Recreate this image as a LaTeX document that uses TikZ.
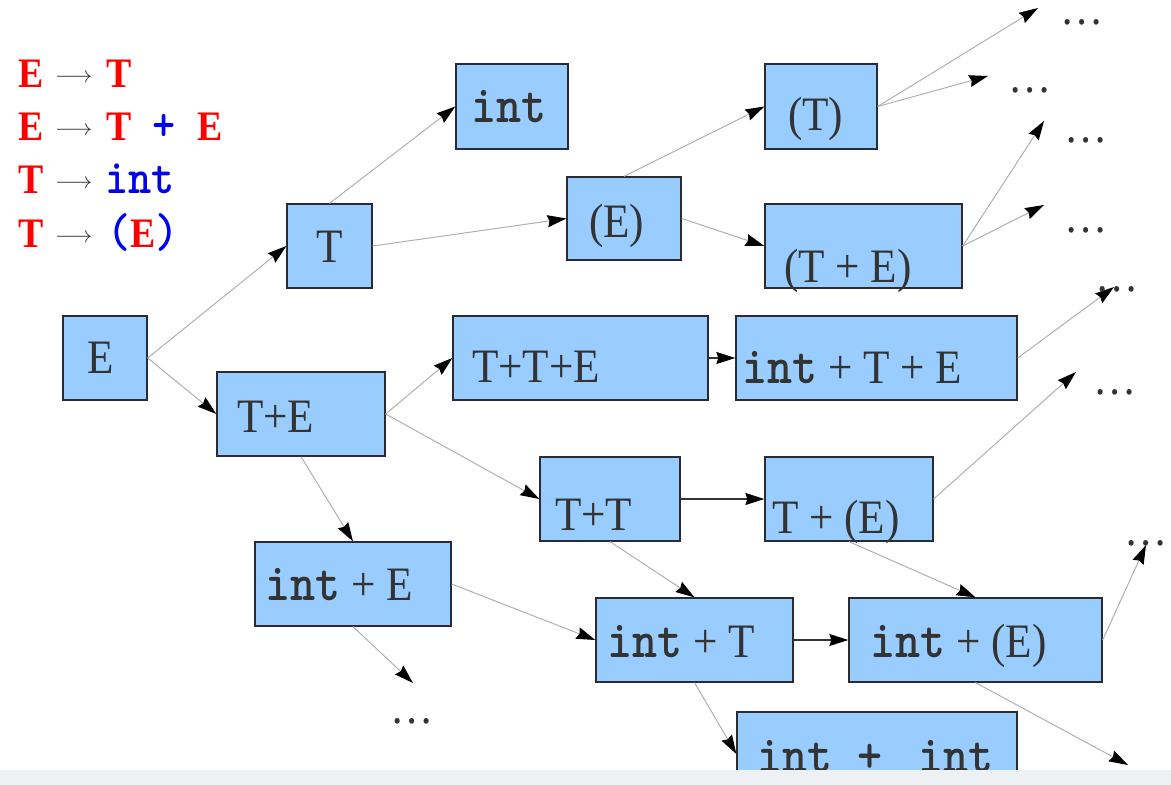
\documentclass[tikz,border=0pt]{standalone}
\usepackage{fontspec}
\setmainfont{Liberation Serif}
\usepackage{graphicx}
\usetikzlibrary{arrows.meta}
\definecolor{boxfill}{HTML}{99CCFF}
\definecolor{boxline}{HTML}{2B2B33}
\definecolor{txt}{HTML}{333333}
\definecolor{conn}{HTML}{B0B0B0}
\definecolor{band}{HTML}{EEF1F4}
\definecolor{legred}{HTML}{FF0000}
\definecolor{legblue}{HTML}{0000F0}
\newcommand\bx[1]{\scalebox{0.9}[1]{\fontsize{48}{50}\selectfont #1}}
\newcommand\lgt[1]{\scalebox{0.9}[1]{\fontsize{42}{44}\selectfont #1}}
\newcommand\lgm[1]{\scalebox{0.9}[1]{\fontsize{49}{51}\selectfont\ttfamily\bfseries #1}}
\newcommand\larr{\raisebox{5pt}{\color{txt}\scalebox{2.3}{$\longrightarrow$}}}
\newcommand\ci{{\fontsize{53}{55}\selectfont\ttfamily\bfseries int}}
\tikzset{
  box/.style={draw=boxline, fill=boxfill, line width=1.3pt, inner sep=0pt, rectangle},
  lbl/.style={anchor=base west, inner sep=0pt, text=txt},
  dotsn/.style={anchor=base, inner sep=0pt, text=txt},
  leg/.style={anchor=base west, inner sep=0pt},
  gl/.style={draw=conn, line width=1pt, -{Stealth[length=19pt,width=12pt,inset=2pt,color=black]}},
  dk/.style={draw=black!80, line width=1.5pt, -{Stealth[length=19pt,width=12pt,inset=2pt,color=black]}}
}
\begin{document}
\begin{tikzpicture}[x=1pt,y=-1pt]
\useasboundingbox (0,0) rectangle (1171,785);
\clip (0,0) rectangle (1171,785);
\fill[white] (0,0) rectangle (1171,785);
% legend
\node[leg] (leg1) at (18,87) {\lgt{\color{legred}\bfseries E}\hspace{11.8pt}\larr\hspace{14pt}\lgt{\color{legred}\bfseries T}};
\node[leg] (leg2) at (18,140) {\lgt{\color{legred}\bfseries E}\hspace{11.8pt}\larr\hspace{14pt}\lgt{\color{legred}\bfseries T}\hspace{21pt}\lgm{\color{legblue}+}\hspace{22pt}\lgt{\color{legred}\bfseries E}};
\node[leg] (leg3) at (18,193) {\lgt{\color{legred}\bfseries T}\hspace{11.8pt}\larr\hspace{13pt}\lgm{\color{legblue}int}};
\node[leg] (leg4) at (18,247) {\lgt{\color{legred}\bfseries T}\hspace{11.8pt}\larr\hspace{15pt}\lgm{\color{legblue}(}\lgt{\color{legred}\bfseries E}\lgm{\color{legblue})}};
% boxes
\node[box, minimum width=84pt, minimum height=84pt] (E) at (105,358) {};
\node[box, minimum width=85pt, minimum height=84pt] (T) at (329.5,246) {};
\node[box, minimum width=112pt, minimum height=85pt] (int1) at (512,106.5) {};
\node[box, minimum width=114pt, minimum height=83pt] (pE) at (624,218.5) {};
\node[box, minimum width=112pt, minimum height=85pt] (pT) at (821,106.5) {};
\node[box, minimum width=197pt, minimum height=84pt] (pTE) at (863.5,246) {};
\node[box, minimum width=255pt, minimum height=84pt] (TTE) at (580.5,358) {};
\node[box, minimum width=281pt, minimum height=84pt] (iTE) at (876.5,358) {};
\node[box, minimum width=168pt, minimum height=84pt] (TE) at (301,414) {};
\node[box, minimum width=140pt, minimum height=84pt] (TT) at (610,499) {};
\node[box, minimum width=168pt, minimum height=84pt] (TpE) at (849,499) {};
\node[box, minimum width=196pt, minimum height=84pt] (iE) at (353,584) {};
\node[box, minimum width=197pt, minimum height=84pt] (iT) at (694.5,640) {};
\node[box, minimum width=253pt, minimum height=84pt] (iPE) at (975.5,640) {};
\node[box, minimum width=280pt, minimum height=84pt] (iint) at (877,754) {};
% labels
\node[lbl] (tE) at (87,373) {\bx{E}};
\node[lbl] (tT) at (316,262) {\bx{T}};
\node[lbl] (tint1) at (471,122) {\bx{\ci}};
\node[lbl] (tpE) at (589,237) {\bx{(E)}};
\node[lbl] (tpT) at (788,130) {\bx{(T)}};
\node[lbl] (tpTE) at (784,282) {\bx{(T + E)}};
\node[lbl] (tTTE) at (472,382) {\bx{T+T+E}};
\node[lbl] (tiTE) at (742,383) {\bx{\ci{} + T + E}};
\node[lbl] (tTE) at (237,432) {\bx{T+E}};
\node[lbl] (tTT) at (555,530) {\bx{T+T}};
\node[lbl] (tTpE) at (772,533) {\bx{T + (E)}};
\node[lbl] (tiE) at (265,600) {\bx{\ci{} + E}};
\node[lbl] (tiT) at (607,657) {\bx{\ci{} + T}};
\node[lbl] (tiPE) at (870,657) {\bx{\ci{} + (E)}};
\node[lbl] (tiint) at (757,772) {\bx{{\fontsize{53}{55}\selectfont\ttfamily\bfseries int + \hspace{12pt}int}}};
% free ends
\coordinate (f1) at (1038,8);
\coordinate (f2) at (988,76);
\coordinate (f3) at (1044,121);
\coordinate (f4) at (1044,205);
\coordinate (f5) at (1114,287);
\coordinate (f6) at (1076,372);
\coordinate (f7) at (413,683);
\coordinate (f8) at (1128,765);
\coordinate (f9) at (1146,545);
% connectors
\draw[gl] (E.east) -- (T.west);
\draw[gl] (E.east) -- (TE.west);
\draw[gl] (T.north) -- (int1.west);
\draw[gl] (T.east) -- (pE.west);
\draw[gl] (pE.north) -- (pT.west);
\draw[gl] (pE.east) -- (pTE.west);
\draw[gl] (pT.east) -- (f1);
\draw[gl] (pT.east) -- (f2);
\draw[gl] (pTE.east) -- (f3);
\draw[gl] (pTE.east) -- (f4);
\draw[gl] (iTE.east) -- (f5);
\draw[gl] (TE.east) -- (TTE.west);
\draw[gl] (TE.east) -- (TT.west);
\draw[gl] (TE.south) -- (iE.north);
\draw[dk] (TTE.east) -- (iTE.west);
\draw[dk] (TT.east) -- (TpE.west);
\draw[gl] (TT.south) -- (iT.north);
\draw[gl] (TpE.east) -- (f6);
\draw[gl] (TpE.south) -- (iPE.north);
\draw[gl] (iE.east) -- (iT.west);
\draw[gl] (iE.south) -- (f7);
\draw[dk] (iT.east) -- (iPE.west);
\draw[gl] (iT.south) -- (iint.west);
\draw[gl] (iPE.south) -- (f8);
\draw[gl] (iPE.east) -- (f9);
% dots
\node[dotsn] (d1) at (1082,24) {\bx{…}};
\node[dotsn] (d2) at (1030,92) {\bx{…}};
\node[dotsn] (d3) at (1086,142) {\bx{…}};
\node[dotsn] (d4) at (1086,232) {\bx{…}};
\node[dotsn] (d5) at (1117,291) {\bx{…}};
\node[dotsn] (d6) at (1115,394) {\bx{…}};
\node[dotsn] (d7) at (1146,545) {\bx{…}};
\node[dotsn] (d8) at (412,723) {\bx{…}};
% bottom band
\fill[band] (0,770) rectangle (1171,785);
\end{tikzpicture}
\end{document}
